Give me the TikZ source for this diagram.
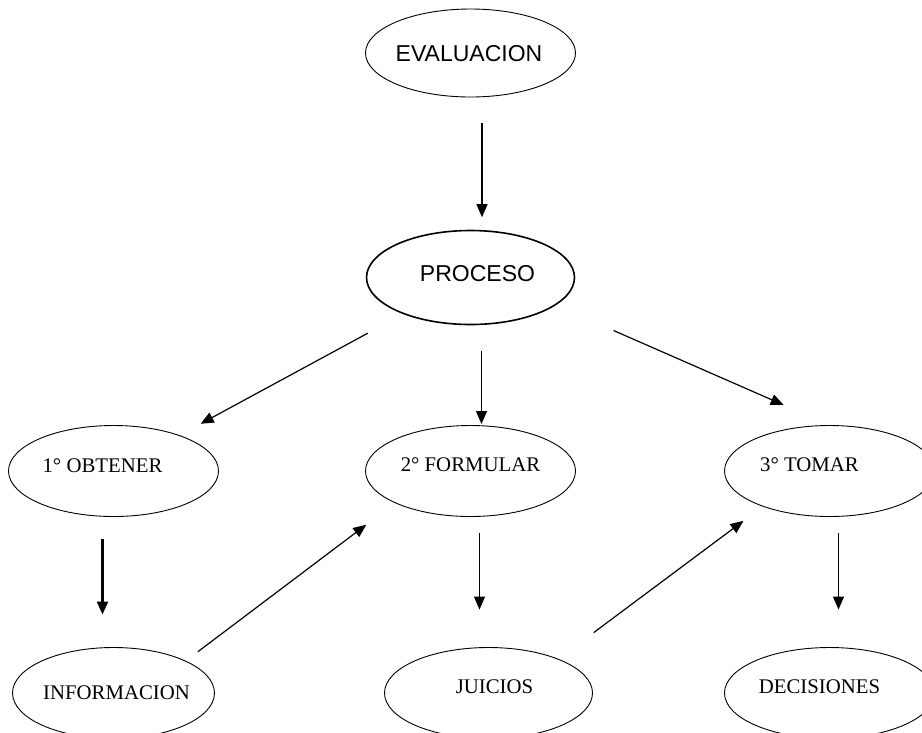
\documentclass[tikz,border=0pt]{standalone}
\usepackage{fontspec}
\setmainfont{Liberation Serif}
\newfontfamily\arialf{Liberation Sans}
\usetikzlibrary{shapes.geometric, positioning, arrows.meta}

\begin{document}
\begin{tikzpicture}[
    x=1pt, y=-1pt,
    on grid,
    node distance=222pt,
    every node/.style={inner sep=0pt},
    box/.style={ellipse, draw=black, line width=0.9pt, minimum width=210pt, minimum height=91pt},
    txt/.style={font=\fontsize{20.8}{24}\selectfont},
    head/.style={font=\arialf\fontsize{23}{27}\selectfont},
    every edge/.append style={line width=1.2pt, -{Triangle[length=13pt, width=11pt]}}
]
   \useasboundingbox (0,0) rectangle (922,732);
   \clip (0,0) rectangle (922,732);

   % Top
   \node[box, minimum height=88pt, label={[head, xshift=-1.5pt, yshift=-1pt]center:EVALUACION}] (eval) at (470.5,53) {};
   \node[box, line width=1.6pt, minimum width=208pt, minimum height=94pt, label={[head, xshift=7pt, yshift=4pt]center:PROCESO}] (proc) [below=224.5pt of eval] {};

   % Steps
   \node[box, label={[txt, yshift=6pt]center:2° FORMULAR}] (form) [below=193.5pt of proc] {};
   \node[box, label={[txt, xshift=-11pt, yshift=5pt]center:1° OBTENER}] (obt) [left=357pt of form] {};
   \node[box, label={[txt, xshift=-20pt, yshift=6pt]center:3° TOMAR}] (tomar) [right=359pt of form] {};

   % Results
   \node[box, minimum width=202pt, label={[txt, xshift=3pt]center:INFORMACION}] (info) [below=of obt] {};
   \node[box, minimum width=208pt, label={[txt, xshift=6pt, yshift=6pt]center:JUICIOS}] (juic) [below=of form, xshift=18pt] {};
   \node[box, label={[txt, xshift=-10pt, yshift=6pt]center:DECISIONES}] (deci) [below=of tomar] {};

   \path
   ([xshift=11.5pt]eval.south) edge[shorten <=26pt, shorten >=12.5pt] ([xshift=11.5pt]proc.north)
   (proc) edge[shorten <=40pt, shorten >=24pt] (obt)
   ([xshift=11pt]proc.south) edge[shorten <=25.5pt, shorten >=1pt] ([xshift=11pt]form.north)
   (proc.-18) edge[shorten <=63pt, shorten >=50pt] (tomar.north)
   ([xshift=-11pt]obt.south) edge[line width=2.2pt, shorten <=22.5pt, shorten >=32.5pt] ([xshift=-11pt]info.north)
   (info.24) edge[shorten <=15pt, shorten >=36pt] (form.203)
   ([xshift=9pt]form.south) edge[shorten <=16.5pt, shorten >=37.5pt] ([xshift=-9pt]juic.north)
   (juic.26) edge[shorten <=44pt, shorten >=24pt] (tomar.208)
   ([xshift=9pt]tomar.south) edge[shorten <=16.5pt, shorten >=37.5pt] ([xshift=9pt]deci.north);
\end{tikzpicture}
\end{document}
